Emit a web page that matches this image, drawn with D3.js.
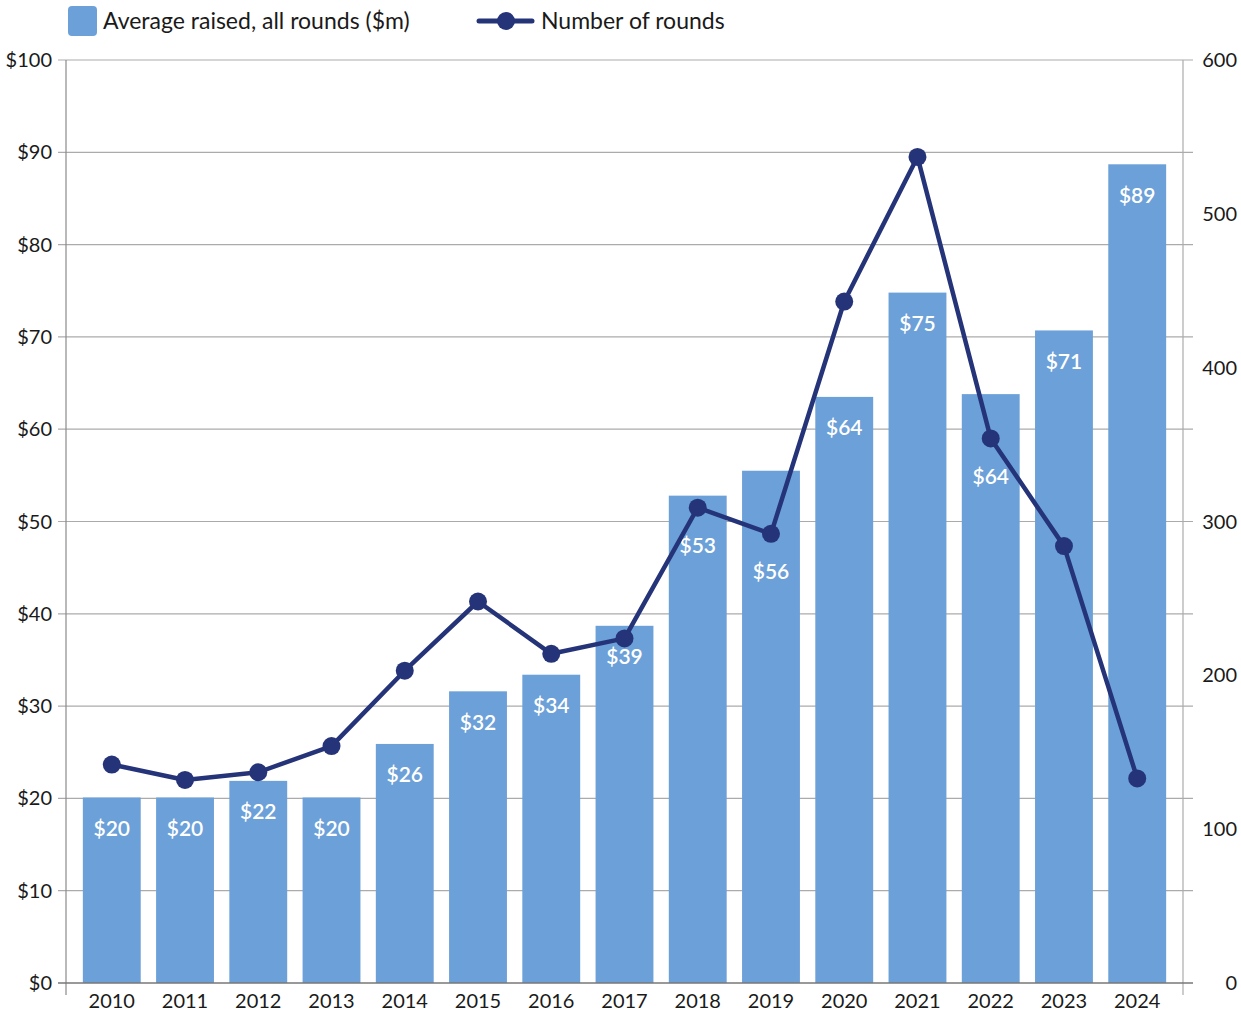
<!DOCTYPE html>
<html><head><meta charset="utf-8">
<script src="https://cdn.jsdelivr.net/npm/d3@7"></script>
<style>body{margin:0;background:#fff}svg{display:block}text{font-family:Lato,"Noto Sans",sans-serif}</style>
</head><body><svg id="c" width="1241" height="1013"></svg>
<script>
const years = ["2010","2011","2012","2013","2014","2015","2016","2017","2018","2019","2020","2021","2022","2023","2024"];
const avgRaised = [20.1,20.1,21.9,20.1,25.9,31.6,33.4,38.7,52.8,55.5,63.5,74.8,63.8,70.7,88.7];
const avgLabels = ["$20","$20","$22","$20","$26","$32","$34","$39","$53","$56","$64","$75","$64","$71","$89"];
const numRounds = [142,132,137,154,203,248,214,224,309,292,443,537,354,284,133];
const leftTicks = [0,10,20,30,40,50,60,70,80,90,100];
const rightTicks = [0,100,200,300,400,500,600];
const labelBelowMarker = ["2018","2019","2022"];

const svg = d3.select("#c");
const L = 66, R = 1183, T = 60, B = 983;
const x = d3.scaleBand().domain(years).range([L, R]).paddingInner(0.21).paddingOuter(0.23);
const yL = d3.scaleLinear().domain([0,100]).range([B, T]);
const yR = d3.scaleLinear().domain([0,600]).range([B, T]);
const barColor = "#6ca0d8", lineColor = "#253478";
const cx = d => x(d) + x.bandwidth()/2;

// gridlines
svg.append("g").selectAll("line").data(leftTicks.filter(d=>d>0)).join("line")
  .attr("x1", 58).attr("x2", 1193).attr("y1", d=>yL(d)).attr("y2", d=>yL(d))
  .attr("stroke", "#ababab").attr("stroke-width", 1.2);

// bars
svg.append("g").selectAll("rect").data(years).join("rect")
  .attr("x", d=>x(d)).attr("width", x.bandwidth())
  .attr("y", (d,i)=>yL(avgRaised[i])).attr("height", (d,i)=>B - yL(avgRaised[i]))
  .attr("fill", barColor);

svg.append("g").selectAll("text").data(years).join("text")
  .attr("x", d=>cx(d))
  .attr("y", (d,i)=> labelBelowMarker.includes(d) ? yR(numRounds[i]) + 38 : yL(avgRaised[i]) + 31)
  .attr("dy","0.35em")
  .attr("text-anchor","middle").attr("fill","#fff").attr("font-size",21).attr("font-weight",600)
  .text((d,i)=>avgLabels[i]);

// axes lines
svg.append("line").attr("x1",L).attr("x2",L).attr("y1",T).attr("y2",995).attr("stroke","#8a8a8a").attr("stroke-width",1.2);
svg.append("line").attr("x1",R).attr("x2",R).attr("y1",T).attr("y2",995).attr("stroke","#ababab").attr("stroke-width",1.2);
svg.append("line").attr("x1",58).attr("x2",1193).attr("y1",B).attr("y2",B).attr("stroke","#777").attr("stroke-width",1.5);

// left tick labels
svg.append("g").selectAll("text").data(leftTicks).join("text")
  .attr("x", 52).attr("y", d=>yL(d)).attr("dy","0.35em").attr("text-anchor","end")
  .attr("font-size",20).attr("fill","#1a1a1a").text(d=>"$"+d);
// right tick labels
svg.append("g").selectAll("text").data(rightTicks).join("text")
  .attr("x", 1237).attr("y", d=>yR(d)).attr("dy","0.35em").attr("text-anchor","end")
  .attr("font-size",20).attr("fill","#1a1a1a").text(d=>d);
// x labels
svg.append("g").selectAll("text").data(years).join("text")
  .attr("x", d=>cx(d)).attr("y", 1008).attr("text-anchor","middle")
  .attr("font-size",20).attr("fill","#1a1a1a").text(d=>d);

// line
const line = d3.line().x((d,i)=>cx(years[i])).y(d=>yR(d));
svg.append("path").datum(numRounds).attr("d", line).attr("fill","none")
  .attr("stroke", lineColor).attr("stroke-width",4.5).attr("stroke-linejoin","round");
svg.append("g").selectAll("circle").data(numRounds).join("circle")
  .attr("cx",(d,i)=>cx(years[i])).attr("cy", d=>yR(d)).attr("r",9).attr("fill",lineColor);

// legend
const lg = svg.append("g");
lg.append("rect").attr("x",68).attr("y",6).attr("width",29).attr("height",30).attr("rx",4).attr("fill",barColor);
lg.append("text").attr("x",103).attr("y",21).attr("dy","0.35em").attr("font-size",23).attr("fill","#1a1a1a").text("Average raised, all rounds ($m)");
lg.append("line").attr("x1",479).attr("x2",532).attr("y1",21).attr("y2",21).attr("stroke",lineColor).attr("stroke-width",5).attr("stroke-linecap","round");
lg.append("circle").attr("cx",506).attr("cy",21).attr("r",9).attr("fill",lineColor);
lg.append("text").attr("x",541).attr("y",21).attr("dy","0.35em").attr("font-size",23).attr("fill","#1a1a1a").text("Number of rounds");
</script></body></html>
